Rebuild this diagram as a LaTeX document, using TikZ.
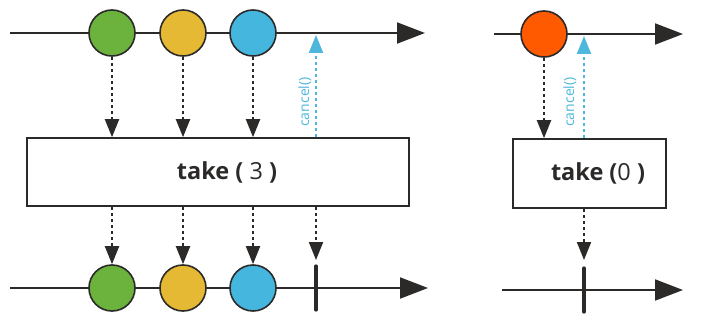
\documentclass[tikz,border=0pt]{standalone}
\usepackage{fontspec}
\setmainfont{Open Sans}
\usetikzlibrary{arrows.meta}
\definecolor{dk}{HTML}{2B2A29}
\definecolor{cgreen}{HTML}{6CB33E}
\definecolor{cyellow}{HTML}{E6B934}
\definecolor{cblue}{HTML}{45B7DF}
\definecolor{corange}{HTML}{FF5A00}
\definecolor{ccancel}{HTML}{4DB8DB}
\tikzset{
  timeline/.style={draw=dk, line width=2pt, -{Triangle[length=28pt,width=21pt]}},
  marble/.style={circle, draw=dk, line width=1.6pt, minimum size=46pt, inner sep=0pt},
  opbox/.style={draw=dk, line width=1.6pt, fill=white, inner sep=0pt},
  flow/.style={draw=dk, line width=2pt, dash pattern=on 3pt off 3pt, -{Triangle[length=18pt,width=14pt]}},
  cancelflow/.style={draw=ccancel, line width=2pt, dash pattern=on 3pt off 3pt, -{Triangle[length=18pt,width=14pt]}},
  cancellabel/.style={text=ccancel, rotate=90, font=\fontsize{14}{14}\selectfont, inner sep=0pt},
  endbar/.style={draw=dk, line width=3.2pt, line cap=round},
  optext/.style={font=\fontsize{23.5}{23.5}\selectfont, text=dk}
}
\begin{document}
\begin{tikzpicture}[x=1pt,y=-1pt]
\useasboundingbox (0,0) rectangle (715,329);
% ---- left: take(3)
\coordinate (l1s) at (10,33);
\coordinate (l1e) at (425,33);
\draw[timeline] (l1s) -- (l1e);
\node[marble, fill=cgreen] (g1) at (112,33) {};
\node[marble, fill=cyellow] (y1) at (183,33) {};
\node[marble, fill=cblue] (b1) at (253,33) {};
\node[opbox, minimum width=382pt, minimum height=68pt] (box1) at (218,172) {};
\node[optext] (t1) at (227,172) {\textbf{take (} 3 \textbf{)}};
\coordinate (c1) at (316,35);
\draw[flow] (g1) -- (g1 |- box1.north);
\draw[flow] (y1) -- (y1 |- box1.north);
\draw[flow] (b1) -- (b1 |- box1.north);
\draw[cancelflow] (c1 |- box1.north) -- (c1);
\node[cancellabel] (cl1) at (305,102) {cancel()};
\coordinate (l2s) at (10,288);
\coordinate (l2e) at (428,288);
\draw[timeline] (l2s) -- (l2e);
\node[marble, fill=cgreen] (g2) at (112,288) {};
\node[marble, fill=cyellow] (y2) at (183,288) {};
\node[marble, fill=cblue] (b2) at (253,288) {};
\coordinate (e1t) at (316,266);
\coordinate (e1b) at (316,310);
\draw[endbar] (e1t) -- (e1b);
\draw[flow] (g1 |- box1.south) -- (g2);
\draw[flow] (y1 |- box1.south) -- (y2);
\draw[flow] (b1 |- box1.south) -- (b2);
\draw[flow] (c1 |- box1.south) -- ([yshift=6pt]e1t);
% ---- right: take(0)
\coordinate (r1s) at (494,34);
\coordinate (r1e) at (683,34);
\draw[timeline] (r1s) -- (r1e);
\node[marble, fill=corange] (o1) at (544,34) {};
\node[opbox, minimum width=153pt, minimum height=69pt] (box2) at (589.5,173.5) {};
\node[optext] (t2) at (598,173) {\textbf{take (}0 \textbf{)}};
\coordinate (c2) at (584,36);
\draw[flow] (o1) -- (o1 |- box2.north);
\draw[cancelflow] (c2 |- box2.north) -- (c2);
\node[cancellabel] (cl2) at (570,102) {cancel()};
\coordinate (r2s) at (502,290);
\coordinate (r2e) at (683,290);
\draw[timeline] (r2s) -- (r2e);
\coordinate (e2t) at (584,268);
\coordinate (e2b) at (584,312);
\draw[endbar] (e2t) -- (e2b);
\draw[flow] (c2 |- box2.south) -- ([yshift=8pt]e2t);
\end{tikzpicture}
\end{document}
